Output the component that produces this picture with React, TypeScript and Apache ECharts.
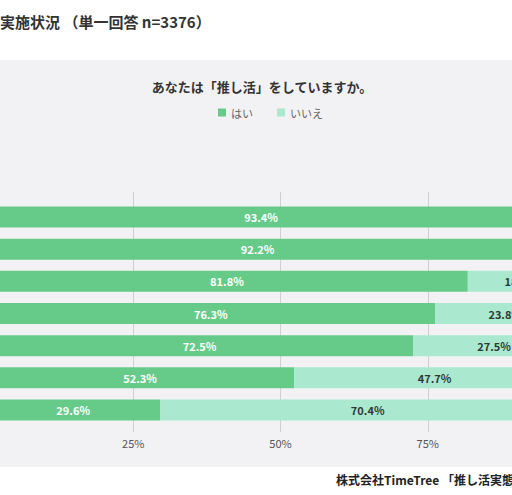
import React, { useEffect, useRef } from "react";
import * as echarts from "echarts";

const categories = ["群1", "群2", "群3", "群4", "群5", "群6", "群7"];
const yesValues = [93.4, 92.2, 81.8, 76.3, 72.5, 52.3, 29.6];
const noValues = [6.6, 7.8, 18.2, 23.8, 27.5, 47.7, 70.4];
const seriesNames = ["はい", "いいえ"];
const xTicks = [0, 25, 50, 75, 100];
const pageTitle = "実施状況 （単一回答 n=3376）";
const chartTitle = "あなたは「推し活」をしていますか。";
const sourceText = "株式会社TimeTree 「推し活実態調査」";

const OFF = 100; // the chart div starts 100px left of the page
const FONT = "'Noto Sans CJK JP', 'Noto Sans', sans-serif";
const GREEN = "#66cb89";
const LIGHT = "#aae9cf";

export default function App() {
  const ref = useRef<HTMLDivElement>(null);
  useEffect(() => {
    if (!ref.current) return;
    const chart = echarts.init(ref.current, undefined, { renderer: "svg" });
    chart.setOption({
      animation: false,
      backgroundColor: "#ffffff",
      textStyle: { fontFamily: FONT },
      graphic: [
        {
          type: "rect",
          z: -10,
          silent: true,
          shape: { x: 0, y: 60, width: 712, height: 407 },
          style: { fill: "#f2f2f4" },
        },
        {
          type: "text",
          x: OFF + 0,
          y: 21,
          style: {
            text: pageTitle,
            font: `bold 15px ${FONT}`,
            fill: "#333",
            textVerticalAlign: "middle",
            textAlign: "left",
          },
        },
        {
          type: "text",
          x: OFF + 262,
          y: 86,
          style: {
            text: chartTitle,
            font: `bold 13px ${FONT}`,
            fill: "#333",
            textVerticalAlign: "middle",
            textAlign: "center",
          },
        },
        {
          type: "text",
          x: OFF + 336,
          y: 479,
          style: {
            text: sourceText,
            font: `bold 12px ${FONT}`,
            fill: "#222",
            textVerticalAlign: "middle",
            textAlign: "left",
          },
        },
      ],
      legend: {
        data: seriesNames,
        left: OFF + 213,
        top: 102,
        icon: "rect",
        itemWidth: 8,
        itemHeight: 8,
        itemGap: 24,
        textStyle: { fontSize: 11, color: "#666", fontFamily: FONT },
      },
      grid: [
        { left: OFF - 14, right: 37, top: 201, bottom: 69 },
        { left: OFF - 14, right: 37, top: 192, bottom: 63 },
      ],
      xAxis: [
        {
          gridIndex: 0,
          type: "value",
          min: 0,
          max: 100,
          interval: 25,
          show: false,
        },
        {
          gridIndex: 1,
          type: "value",
          min: xTicks[0],
          max: xTicks[xTicks.length - 1],
          interval: 25,
          axisLine: { show: false },
          axisTick: { show: false },
          splitLine: { show: true, lineStyle: { color: "#cfcfd2", width: 1 } },
          axisLabel: {
            margin: 5,
            fontSize: 11,
            color: "#555",
            fontFamily: FONT,
            showMinLabel: false,
            showMaxLabel: false,
            formatter: (v: number) => `${v}%`,
          },
        },
      ],
      yAxis: [
        {
          gridIndex: 0,
          type: "category",
          data: categories,
          inverse: true,
          axisLine: { show: false },
          axisTick: { show: false },
          axisLabel: { show: false },
        },
        {
          gridIndex: 1,
          type: "category",
          data: categories,
          inverse: true,
          show: false,
        },
      ],
      series: [
        {
          name: seriesNames[0],
          type: "bar",
          stack: "total",
          xAxisIndex: 0,
          yAxisIndex: 0,
          barWidth: 21,
          data: yesValues,
          itemStyle: { color: GREEN },
          label: {
            show: true,
            position: "inside",
            color: "#ffffff",
            fontSize: 11,
            fontWeight: "bold",
            fontFamily: FONT,
            formatter: (p: any) => `${p.value}%`,
          },
          z: 3,
        },
        {
          name: seriesNames[1],
          type: "bar",
          stack: "total",
          xAxisIndex: 0,
          yAxisIndex: 0,
          barWidth: 21,
          data: noValues,
          itemStyle: { color: LIGHT },
          label: {
            show: true,
            position: "inside",
            color: "#2f3a33",
            fontSize: 11,
            fontWeight: "bold",
            fontFamily: FONT,
            formatter: (p: any) => `${p.value}%`,
          },
          z: 3,
        },
      ],
    });
    return () => chart.dispose();
  }, []);

  return (
    <div
      style={{
        position: "fixed",
        left: 0,
        top: 0,
        width: 512,
        height: 495,
        overflow: "hidden",
      }}
    >
      <div
        ref={ref}
        style={{ position: "absolute", left: -OFF, top: 0, width: 712, height: 495 }}
      />
    </div>
  );
}
